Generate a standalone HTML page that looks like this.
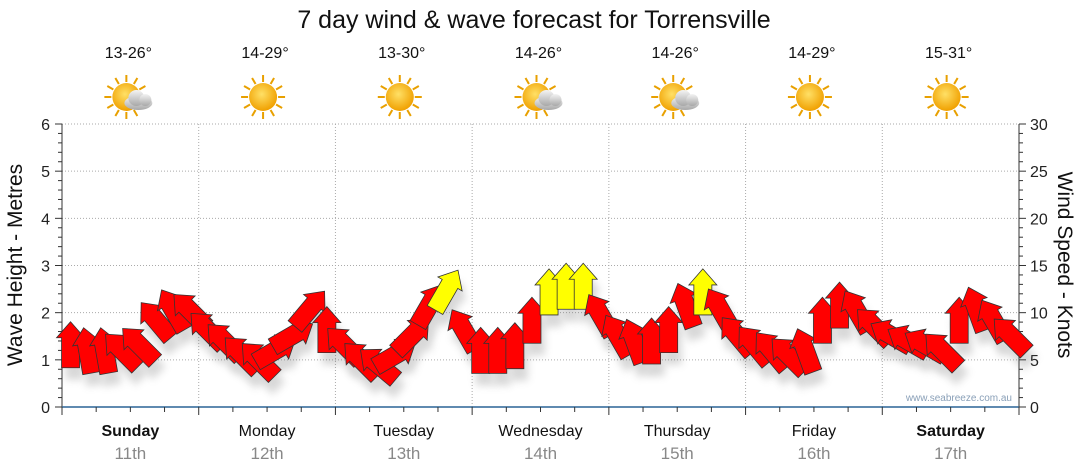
<!DOCTYPE html>
<html><head><meta charset="utf-8"><style>
body{margin:0;background:#fff;font-family:"Liberation Sans",sans-serif}
svg{display:block}
</style></head><body>
<svg id="c" width="1080" height="475" font-family="Liberation Sans, DejaVu Sans, sans-serif">
<defs>
<filter id="sh" x="-50%" y="-50%" width="200%" height="200%"><feGaussianBlur stdDeviation="4"/></filter>
<radialGradient id="sun" cx="45%" cy="40%" r="60%"><stop offset="0" stop-color="#ffe066"/><stop offset="1" stop-color="#f0a000"/></radialGradient>
<linearGradient id="cl" x1="0" y1="0" x2="0" y2="1"><stop offset="0" stop-color="#f4f4f4"/><stop offset="1" stop-color="#a8a8a8"/></linearGradient>
</defs>
<text x="534" y="28" font-size="25" text-anchor="middle" fill="#111">7 day wind &amp; wave forecast for Torrensville</text>
<g id="grid"></g><g id="axes"></g><g id="icons"></g><g id="shadows" opacity="0.25"></g><g id="arrows"></g>
<text x="1012" y="401" font-size="10" text-anchor="end" fill="#8aa0b8">www.seabreeze.com.au</text>
<text transform="translate(22,265) rotate(-90)" font-size="21" text-anchor="middle" fill="#111">Wave Height - Metres</text>
<text transform="translate(1058,265) rotate(90)" font-size="21" text-anchor="middle" fill="#111">Wind Speed - Knots</text>
</svg>
<script>
const days=["Sunday","Monday","Tuesday","Wednesday","Thursday","Friday","Saturday"];
const dates=["11th","12th","13th","14th","15th","16th","17th"];
const temps=["13-26°","14-29°","13-30°","14-26°","14-26°","14-29°","15-31°"];
const cloudy=[true,false,false,true,true,false,false];
const leftTicks=[0,1,2,3,4,5,6];
const rightTicks=[0,5,10,15,20,25,30];
const windSpeed=[6.6,6,6,6,6.6,9.2,10.3,10.2,
 8.2,7,5.6,5,6,7.6,10.4,8.2,
 6.6,5,4.5,5.5,7.6,10.8,12.4,8.2,
 6,6,6.5,9.2,12.2,12.8,12.8,9.8,
 7.6,7,7,8.2,10.8,12.2,10.4,7.6,
 6.6,6,5.5,6,9.2,10.8,10.2,8.6,
 7.6,7,6.6,6,9.2,10.4,9.2,7.6];
const windDir=[0,-10,-10,-45,-45,-40,-30,-45,
 -45,-45,-45,-45,60,60,40,0,
 -45,-45,-50,60,45,30,30,-30,
 0,0,0,0,0,0,0,-30,
 -30,-20,0,0,-20,0,-30,-40,
 -40,-40,-45,-20,0,0,-30,-45,
 -60,-60,-60,-45,0,-20,-30,-45];
const NS="http://www.w3.org/2000/svg";
const X0=62,X1=1019,Y0=407,Y1=124;
const xDay=i=>X0+(X1-X0)/7*i;
const yM=v=>Y0-(Y0-Y1)*v/6;
const yK=v=>Y0-(Y0-Y1)*v/30;
const xSlot=i=>X0+(X1-X0)/56*(i+0.5);
function mk(tag,attrs,parent){const e=document.createElementNS(NS,tag);for(const k in attrs)e.setAttribute(k,attrs[k]);parent.appendChild(e);return e;}
const grid=document.getElementById('grid'),axes=document.getElementById('axes');
leftTicks.forEach(v=>{if(v>0){const l=mk('line',{x1:X0,x2:X1,y1:yM(v),y2:yM(v),stroke:'#aaa','stroke-dasharray':'1,2'},grid);

}
const t=mk('text',{x:50,y:yM(v)+6,'font-size':16,'text-anchor':'end',fill:'#222'},axes);t.textContent=v;

});
rightTicks.forEach(v=>{const t=mk('text',{x:1030,y:yK(v)+6,'font-size':16,fill:'#222'},axes);t.textContent=v;

});
for(let i=0;i<=30;i++){const y=yK(i);mk('line',{x1:X0,x2:X0-(i%5?4:7),y1:y,y2:y,stroke:'#333'},axes);mk('line',{x1:X1,x2:X1+(i%5?4:7),y1:y,y2:y,stroke:'#333'},axes);}
mk('line',{x1:X0,x2:X0,y1:Y1,y2:Y0,stroke:'#333'},axes);
mk('line',{x1:X1,x2:X1,y1:Y1,y2:Y0,stroke:'#333'},axes);
for(let d=1;d<7;d++){const l=mk('line',{x1:xDay(d),x2:xDay(d),y1:Y1,y2:Y0,stroke:'#aaa','stroke-dasharray':'1,2'},grid);

}
const ax=mk('line',{x1:X0,x2:X1,y1:Y0,y2:Y0,stroke:'#2a6496','stroke-width':1.5},axes);


for(let i=0;i<=28;i++){const x=X0+(X1-X0)/28*i;mk('line',{x1:x,x2:x,y1:Y0,y2:Y0+(i%4?5:8),stroke:'#333'},axes);}
const icons=document.getElementById('icons');
days.forEach((d,i)=>{const cx=(xDay(i)+xDay(i+1))/2;
const t1=mk('text',{x:cx,y:436,'font-size':16,'text-anchor':'middle',fill:'#111','font-weight':(i==0||i==6)?'bold':'normal'},axes);t1.textContent=d;


const t2=mk('text',{x:cx,y:459,'font-size':17,'text-anchor':'middle',fill:'#888'},axes);t2.textContent=dates[i];


const t3=mk('text',{x:cx-2,y:58,'font-size':16,'text-anchor':'middle',fill:'#111'},icons);t3.textContent=temps[i];


const g=mk('g',{transform:`translate(${cx-4},97)`},icons);


for(let k=0;k<12;k++){const a=k*Math.PI/6;mk('line',{x1:Math.cos(a)*15,y1:Math.sin(a)*15,x2:Math.cos(a)*22,y2:Math.sin(a)*22,stroke:'#e8a000','stroke-width':2},g);}
mk('circle',{cx:0,cy:0,r:14,fill:'url(#sun)'},g);
if(cloudy[i]){const c=mk('g',{transform:'translate(12,3)'},g);
mk('ellipse',{cx:0,cy:3,rx:14,ry:7,fill:'url(#cl)'},c);mk('circle',{cx:-2,cy:-2,r:8,fill:'url(#cl)'},c);mk('circle',{cx:7,cy:0,r:6,fill:'url(#cl)'},c);}
});
const arrows=document.getElementById('arrows'),shadows=document.getElementById('shadows');
const pts="0,-23 14,-7 9,-7 9,23 -9,23 -9,-7 -14,-7";
windSpeed.forEach((v,i)=>{const x=xSlot(i),y=yK(v);
mk('polygon',{points:pts,transform:`translate(${x+4},${y+12}) rotate(${windDir[i]})`,fill:'#666',filter:'url(#sh)'},shadows);
const p=mk('polygon',{points:pts,transform:`translate(${x},${y}) rotate(${windDir[i]})`,fill:v>=12?'#ffff00':'#ff0000',stroke:'#333','stroke-width':0.8},arrows);

});
</script>
</body></html>
